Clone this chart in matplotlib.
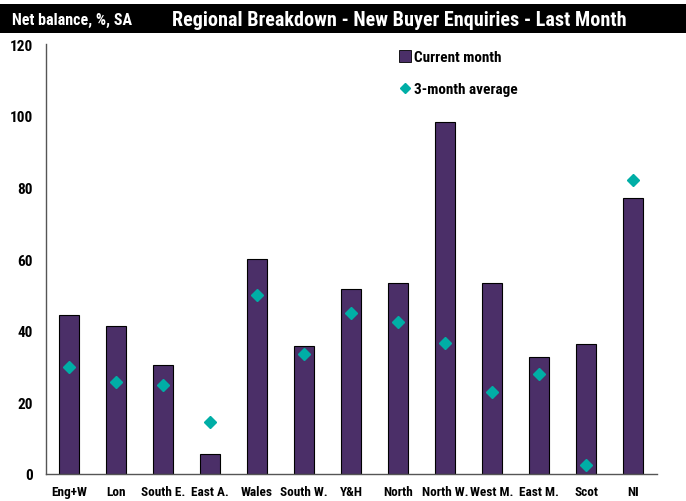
import matplotlib
matplotlib.use('Agg')
import matplotlib.pyplot as plt
from matplotlib.patches import Rectangle
from matplotlib.lines import Line2D
import numpy as np

regions = ['Eng+W', 'Lon', 'South E.', 'East A.', 'Wales', 'South W.', 'Y&H',
           'North', 'North W.', 'West M.', 'East M.', 'Scot', 'NI']
current_month = [44.5, 41.4, 30.4, 5.5, 59.9, 35.8, 51.6, 53.2, 98.3, 53.4, 32.6, 36.4, 77.1]
three_month_avg = [29.9, 25.8, 24.8, 14.6, 50.0, 33.4, 44.9, 42.3, 36.7, 23.0, 27.9, 2.6, 82.1]
yticks = [0, 20, 40, 60, 80, 100, 120]

# narrow bold face, close to the Arial Narrow of the original
plt.rcParams['font.family'] = ['Roboto Condensed', 'Liberation Sans', 'DejaVu Sans']
plt.rcParams['font.weight'] = 'bold'

bar_col = '#4b2f68'
dia_col = '#00aea6'

fig = plt.figure(figsize=(6.86, 5.02), dpi=100)
ax = fig.add_axes([0.0666, 0.0538, 0.8904, 0.8562])

x = np.arange(len(regions))
ax.bar(x, current_month, width=0.42, color=bar_col, edgecolor='black',
       linewidth=0.8, zorder=2)
ax.plot(x, three_month_avg, linestyle='none', marker='D', markersize=6.5,
        color=dia_col, zorder=3)

ax.set_xlim(-0.5, len(regions) - 0.5)
ax.set_ylim(0, 120)
ax.set_yticks(yticks)
ax.set_xticks(x)
ax.set_xticklabels(regions, fontsize=9.5, fontweight='bold')
ax.set_yticklabels([str(v) for v in yticks], fontsize=11, fontweight='bold')
ax.tick_params(axis='both', length=0)
ax.tick_params(axis='x', pad=8)
ax.tick_params(axis='y', pad=9)
for s in ['top', 'right']:
    ax.spines[s].set_visible(False)
for s in ['left', 'bottom']:
    ax.spines[s].set_color('#555555')
    ax.spines[s].set_linewidth(1.0)

handles = [
    Line2D([], [], linestyle='none', marker='s', markersize=8, markerfacecolor=bar_col,
           markeredgecolor='black', markeredgewidth=0.6),
    Line2D([], [], linestyle='none', marker='D', markersize=5, color=dia_col),
]
leg = ax.legend(handles, ['Current month', '3-month average'], loc='upper left',
                bbox_to_anchor=(0.57, 1.0), frameon=False, fontsize=11,
                handlelength=0.6, handletextpad=0.3, labelspacing=1.15, borderaxespad=0)
for t in leg.get_texts():
    t.set_fontweight('bold')

# black header band
fig.patches.append(Rectangle((0, 1 - 34 / 502), 1, 29 / 502, transform=fig.transFigure,
                             facecolor='black', edgecolor='none', zorder=0))
fig.text(12 / 686, 1 - 20 / 502, 'Net balance, %, SA', color='white', fontsize=11.5,
         fontweight='bold', va='center', ha='left')
fig.text(172 / 686, 1 - 20 / 502, 'Regional Breakdown - New Buyer Enquiries - Last Month',
         color='white', fontsize=14.5, fontweight='bold', va='center', ha='left')

fig.savefig('out.png', dpi=100)
